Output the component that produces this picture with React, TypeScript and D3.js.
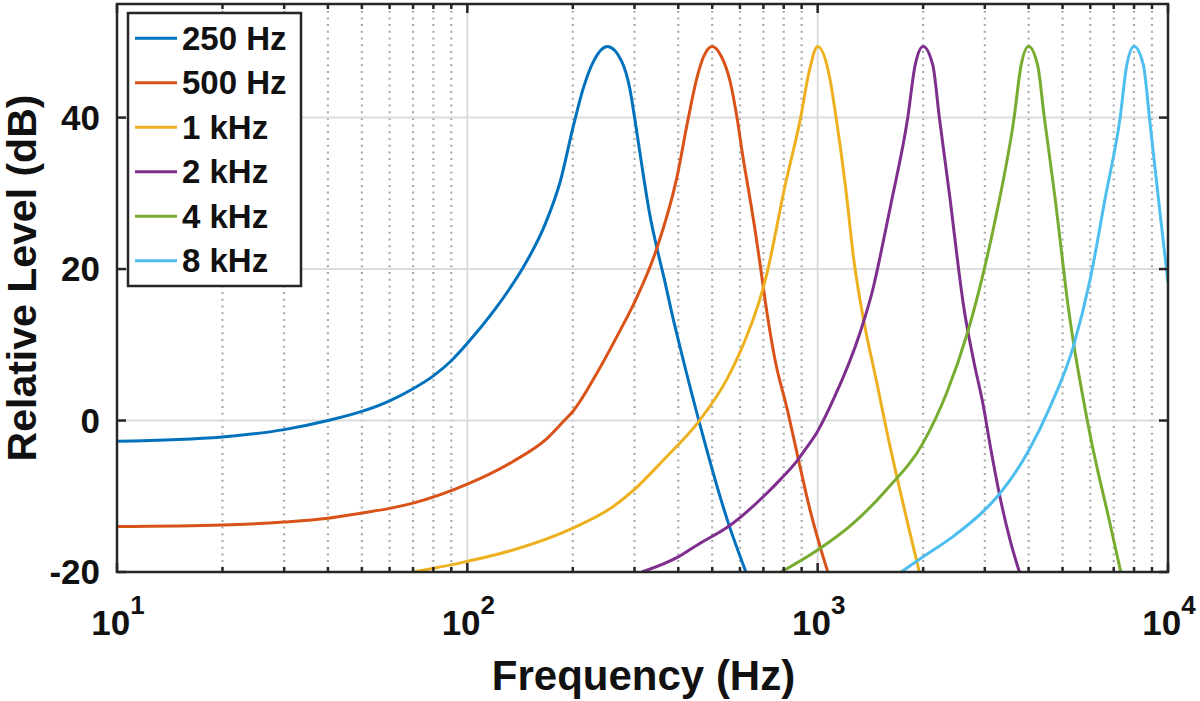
import { useRef, useEffect } from 'react';
import * as d3 from 'd3';

// legend entries, one per filter
const seriesLabels = ['250 Hz', '500 Hz', '1 kHz', '2 kHz', '4 kHz', '8 kHz'];

// values (Hz, dB)
const freq250 = [10, 20, 30, 40, 50, 60, 70, 80, 90, 100, 120, 132, 143, 167, 184, 201, 214, 229, 251, 276, 291, 300, 317, 332, 350, 364, 387, 404, 458, 556, 624];
const level250 = [-2.74, -2.16, -1.2, 0, 1.2, 2.6, 4.2, 5.9, 7.9, 10.2, 14.7, 17.4, 19.9, 26.0, 31.5, 39.0, 43.8, 47.4, 49.4, 47.4, 43.8, 40.1, 32.8, 27.1, 22.2, 18.9, 13.4, 9.84, 0, -13.55, -20];

const freq500 = [10, 20, 30, 40, 50, 60, 70, 100, 135, 169, 190, 200, 234, 273, 300, 347, 396, 428, 452, 472, 500, 532, 563, 588, 611, 634, 662, 685, 718, 755, 819, 873, 951, 1016, 1069];
const level500 = [-14.0, -13.8, -13.4, -12.9, -12.2, -11.6, -10.9, -8.4, -5.4, -2.35, 0.1, 1.2, 6.2, 11.9, 15.6, 22.65, 32.0, 40.1, 45.2, 48.0, 49.4, 48.0, 44.7, 40.1, 35.0, 30.6, 25.3, 20.6, 14.0, 8.1, 1.46, -4.3, -11.8, -16.65, -20];

const freq1k = [70, 100, 135, 200, 261, 300, 363, 458, 550, 600, 628, 655, 692, 718, 731, 807, 895, 940, 1000, 1080, 1128, 1200, 1270, 1351, 1475, 1593, 1682, 1816, 1951];
const level1k = [-20, -18.6, -17.1, -14.2, -11.35, -9.1, -5.2, -0.1, 5.4, 9.0, 11.2, 13.4, 16.8, 19.6, 21.2, 31.0, 40.1, 45.5, 49.4, 45.5, 40.1, 31.0, 21.0, 13.4, 5.0, -2.5, -7.4, -14.0, -20];

const freq2k = [315, 400, 458, 556, 716, 782, 871, 921, 1000, 1109, 1321, 1442, 1507, 1617, 1808, 1897, 2000, 2132, 2225, 2387, 2522, 2606, 2782, 2972, 3105, 3281, 3542, 3765];
const level2k = [-20, -18.0, -16.3, -14.0, -9.6, -7.8, -5.4, -3.84, -1.4, 2.78, 11.6, 17.6, 21.6, 28.5, 40.0, 46.9, 49.4, 46.9, 40.0, 29.3, 20.2, 15.3, 8.1, 1.9, -3.2, -9.1, -15.8, -20];

const freq4k = [786, 1000, 1265, 1574, 2000, 2337, 2665, 3000, 3246, 3637, 3807, 4000, 4246, 4436, 4763, 5028, 5140, 5430, 5734, 6097, 6262, 6761, 7333];
const level4k = [-20, -17.1, -13.55, -9.1, -2.95, 3.7, 11.3, 20.3, 27.5, 40.0, 46.9, 49.4, 46.9, 40.0, 29.3, 20.2, 16.5, 8.97, 2.78, -3.6, -6.05, -12.7, -20];

const freq8k = [1730, 2000, 2438, 3000, 3317, 4000, 4607, 5370, 5993, 6614, 7300, 7624, 8000, 8510, 8851, 9389, 10000];
const level8k = [-20, -18.0, -15.3, -11.8, -9.6, -4.0, 1.8, 9.8, 18.6, 29.3, 40.0, 46.9, 49.4, 46.9, 40.0, 29.3, 18.2];

const seriesFreqs = [freq250, freq500, freq1k, freq2k, freq4k, freq8k];
const seriesLevels = [level250, level500, level1k, level2k, level4k, level8k];

const yTicks = [-20, 0, 20, 40];
const xDecades = [10, 100, 1000, 10000];
const xExponents = ['1', '2', '3', '4'];

const lineColors = ['#0072BD', '#D95319', '#EDB120', '#7E2F8E', '#77AC30', '#4DBEEE'];
const FONT = '"Liberation Sans", Arial, Helvetica, sans-serif';
const AXIS = '#262626';

function FilterChart() {
  const svgRef = useRef<SVGSVGElement>(null);

  useEffect(() => {
    if (!svgRef.current) return;
    const svg = d3.select(svgRef.current);
    svg.selectAll('*').remove();

    const width = 1200;
    const height = 701;
    const margin = { top: 4, right: 32, bottom: 129, left: 117 };
    const x0 = margin.left;
    const x1 = width - margin.right;
    const y0 = margin.top;
    const y1 = height - margin.bottom;

    svg.attr('width', width).attr('height', height).style('font-family', FONT);

    const x = d3.scaleLog().domain([10, 10000]).range([x0, x1]);
    const y = d3.scaleLinear().domain([-20, 55]).range([y1, y0]);

    svg.append('rect').attr('width', width).attr('height', height).attr('fill', '#fff');

    // clip for curves
    svg.append('defs').append('clipPath').attr('id', 'plot-clip')
      .append('rect').attr('x', x0).attr('y', y0).attr('width', x1 - x0).attr('height', y1 - y0);

    const allTicks = x.ticks();
    const isDecade = (v: number) => xDecades.includes(Math.round(v));
    const minorTicks = allTicks.filter((v) => !isDecade(v));

    // minor grid (dotted)
    svg.append('g').selectAll('line').data(minorTicks).join('line')
      .attr('x1', (d) => x(d)).attr('x2', (d) => x(d))
      .attr('y1', y0).attr('y2', y1)
      .attr('stroke', '#ababab').attr('stroke-width', 2.2)
      .attr('stroke-dasharray', '2 4.7');

    // major grid
    svg.append('g').selectAll('line').data(xDecades.slice(1, -1)).join('line')
      .attr('x1', (d) => x(d)).attr('x2', (d) => x(d))
      .attr('y1', y0).attr('y2', y1)
      .attr('stroke', '#dcdcdc').attr('stroke-width', 2);
    svg.append('g').selectAll('line').data(yTicks.slice(1)).join('line')
      .attr('x1', x0).attr('x2', x1)
      .attr('y1', (d) => y(d)).attr('y2', (d) => y(d))
      .attr('stroke', '#dcdcdc').attr('stroke-width', 2);

    // curves
    const line = d3.line<[number, number]>()
      .x((d) => x(d[0]))
      .y((d) => y(d[1]))
      .curve(d3.curveMonotoneX);

    const curves = svg.append('g').attr('clip-path', 'url(#plot-clip)');
    seriesFreqs.forEach((fs, i) => {
      const pts = fs.map((f, j) => [f, seriesLevels[i][j]] as [number, number]);
      curves.append('path')
        .attr('d', line(pts))
        .attr('fill', 'none')
        .attr('stroke', lineColors[i])
        .attr('stroke-width', 3)
        .attr('stroke-linejoin', 'round');
    });

    // box
    svg.append('rect')
      .attr('x', x0).attr('y', y0).attr('width', x1 - x0).attr('height', y1 - y0)
      .attr('fill', 'none').attr('stroke', AXIS).attr('stroke-width', 2.5);

    // ticks
    const tg = svg.append('g').attr('stroke', AXIS).attr('stroke-width', 2.5);
    allTicks.forEach((v) => {
      const len = isDecade(v) ? 9 : 5;
      tg.append('line').attr('x1', x(v)).attr('x2', x(v)).attr('y1', y1).attr('y2', y1 - len);
      tg.append('line').attr('x1', x(v)).attr('x2', x(v)).attr('y1', y0).attr('y2', y0 + len);
    });
    yTicks.forEach((v) => {
      tg.append('line').attr('x1', x0).attr('x2', x0 + 9).attr('y1', y(v)).attr('y2', y(v));
      tg.append('line').attr('x1', x1).attr('x2', x1 - 9).attr('y1', y(v)).attr('y2', y(v));
    });

    // y tick labels
    svg.append('g').selectAll('text').data(yTicks).join('text')
      .attr('x', x0 - 17)
      .attr('y', (d) => y(d) + 12)
      .attr('text-anchor', 'end')
      .attr('font-size', 35).attr('font-weight', 700).attr('fill', '#111')
      .text((d) => String(d));

    // x tick labels 10^n
    xDecades.forEach((v, i) => {
      const t = svg.append('text')
        .attr('x', x(v) + 1)
        .attr('y', y1 + 63)
        .attr('text-anchor', 'middle')
        .attr('font-size', 35).attr('font-weight', 700).attr('fill', '#111');
      t.append('tspan').text('10');
      t.append('tspan').attr('dy', -21).attr('font-size', 26).text(xExponents[i]);
    });

    // axis titles
    svg.append('text')
      .attr('x', (x0 + x1) / 2 + 1)
      .attr('y', 690)
      .attr('text-anchor', 'middle')
      .attr('font-size', 42).attr('font-weight', 700).attr('fill', '#111')
      .text('Frequency (Hz)');

    svg.append('text')
      .attr('transform', `translate(36,278) rotate(-90)`)
      .attr('text-anchor', 'middle')
      .attr('font-size', 41).attr('font-weight', 700).attr('fill', '#111')
      .text('Relative Level (dB)');

    // legend
    const lg = svg.append('g');
    lg.append('rect')
      .attr('x', 128).attr('y', 13).attr('width', 173).attr('height', 273)
      .attr('fill', '#fff').attr('stroke', AXIS).attr('stroke-width', 2.5);
    seriesLabels.forEach((label, i) => {
      const cy = 38.3 + i * 44.5;
      lg.append('line')
        .attr('x1', 135).attr('x2', 177).attr('y1', cy).attr('y2', cy)
        .attr('stroke', lineColors[i]).attr('stroke-width', 3);
      lg.append('text')
        .attr('x', 182).attr('y', cy + 11.5)
        .attr('font-size', 33).attr('font-weight', 700).attr('fill', '#111')
        .text(label);
    });
  }, []);

  return <svg ref={svgRef} style={{ position: 'absolute', left: 0, top: 0 }} />;
}

export default function App() {
  return <FilterChart />;
}
